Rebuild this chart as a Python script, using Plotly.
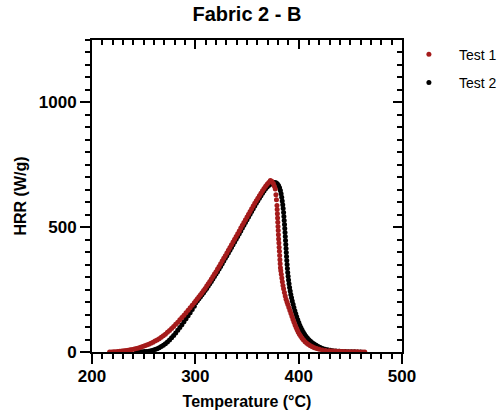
import plotly.graph_objects as go

# Heat release rate vs temperature, two repeat tests of Fabric 2 - B
test1_temp = [217, 219, 221, 223, 225, 227, 229, 231, 233, 235, 237, 239, 241, 243, 245, 247, 249, 251, 253, 255,
              257, 259, 261, 263, 265, 267, 269, 271, 273, 275, 277, 279, 281, 283, 285, 287, 289, 291, 293, 295,
              297, 299,
              300.5, 302, 303.5, 305, 306.5, 308, 309.5, 311, 312.5, 314, 315.5, 317, 318.5, 320, 321.5, 323,
              324.5, 326, 327.5, 329, 330.5, 332, 333.5, 335, 336.5, 338, 339.5, 341, 342.5, 344, 345.5, 347,
              348.5, 350, 351.5, 353, 354.5, 356, 357.5, 359, 360.5, 362, 363.5, 365, 366.5, 368, 369.5, 371, 372.6,
              374, 375.5, 376.5, 377.4, 378, 378.5, 379, 379.2, 379.4, 379.6, 379.8, 380, 380.2, 380.4, 380.6,
              380.85, 381.1, 381.35, 381.6, 381.85, 382.1, 382.35, 382.7, 383.2, 383.7, 384.2, 384.8, 385.4,
              386.2, 387, 387.8, 388.7, 389.5, 390.5, 391.5, 392.5, 393.5, 394.5, 395.5, 396.5, 397.5, 398.5,
              399.5, 400.7, 402, 403.3, 404.7, 406.2, 407.8, 409.5, 411.3, 413.2, 415.2, 417.5, 420, 422.8, 426,
              429.5, 432, 434.5, 437, 439.5, 442, 444.5, 447, 449.5, 452, 454.5, 457, 459.5, 462, 464]
test1_hrr = [0, 0.5, 1, 1.5, 2, 3, 4, 5, 6, 7.5, 9, 10.5, 12, 14, 16.5, 19, 22, 25, 28, 31,
             35, 39, 44, 48, 53, 59, 65, 71, 79, 86, 94, 102, 111, 119, 129, 138, 147, 157, 167, 177,
             187, 197,
             205, 213, 221, 229, 237, 246, 254, 264, 273, 282, 292, 302, 312, 322, 333, 343,
             354, 365, 376, 386, 397, 408, 419, 430, 441, 452, 463, 474, 485, 497, 508, 519,
             530, 541, 552, 563, 574, 585, 596, 606, 616, 626, 636, 646, 655, 664, 672, 679, 687,
             684, 675, 664, 653, 630, 610, 587, 571, 554, 537, 520, 503, 487, 470, 453,
             437, 420, 404, 387, 370, 354, 338, 326, 311, 296, 281, 266, 253,
             238, 224, 211, 200, 190, 178, 166, 154, 142, 130, 119, 108, 98,
             89, 80, 71, 63, 55, 48, 41, 35, 30, 25, 21, 17, 14, 11, 8.5, 6.5,
             5, 4.3, 3.7, 3.1, 2.6, 2.2, 1.8, 1.5, 1.2, 1, 0.8, 0.6, 0.4, 0.2, 0.1]

test2_temp = [243, 245, 247, 249, 251, 253, 255, 257, 259, 261, 263, 265, 267, 269, 271, 273, 275, 277, 279, 281,
              283, 285, 287, 289, 291, 293, 295, 297, 299,
              300.5, 302, 303.5, 305, 306.5, 308, 309.5, 311, 312.5, 314, 315.5, 317, 318.5, 320, 321.5, 323,
              324.5, 326, 327.5, 329, 330.5, 332, 333.5, 335, 336.5, 338, 339.5, 341, 342.5, 344, 345.5, 347,
              348.5, 350, 351.5, 353, 354.5, 356, 357.5, 359, 360.5, 362, 363.5, 365, 366.5, 368, 369.5, 371,
              373, 375, 376.8,
              378, 379.3, 380.5, 381.5, 382.3, 383, 383.6, 384.1, 384.6, 385, 385.4, 385.7, 386, 386.3, 386.55,
              386.8, 387.05, 387.3, 387.55, 387.8, 388, 388.25, 388.5, 388.8, 389.1, 389.4, 389.8, 390.2, 390.7,
              391.2, 391.8, 392.4, 393.1, 393.8, 394.6, 395.4, 396.3, 397.2, 398.1, 399.1, 400.1, 401.1, 402.2,
              403.3, 404.5, 405.7, 407, 408.4, 409.9, 411.5, 413.2, 415, 417, 419, 421, 423.2, 425.5, 428,
              430.5, 433, 436, 439, 442, 445, 448, 451, 454, 457, 460]
test2_hrr = [0, 0.3, 0.6, 1, 1.6, 2.4, 3.4, 5, 7, 10, 13, 17, 22, 27, 33, 40, 48, 57, 66, 76,
             87, 98, 109, 121, 133, 145, 157, 170, 183,
             197, 205, 213, 221, 229, 237, 246, 254, 264, 273, 282, 292, 302, 312, 322, 333,
             343, 354, 365, 376, 386, 397, 408, 419, 430, 441, 452, 463, 474, 485, 497, 508,
             519, 530, 541, 552, 563, 574, 585, 596, 606, 616, 626, 636, 645, 654, 661, 667,
             672, 676, 679,
             678, 674, 667, 658, 647, 634, 620, 605, 590, 575, 559, 543, 527, 511, 495,
             479, 463, 447, 431, 415, 399, 383, 367, 351, 335, 319, 303, 288, 273,
             258, 244, 230, 217, 204, 191, 178, 165, 153, 141, 129, 118, 107, 97,
             88, 79, 71, 63, 56, 49, 43, 37, 32, 27, 22, 18, 14.5, 11.5, 9,
             7, 5.5, 4.2, 3.2, 2.4, 1.8, 1.3, 0.9, 0.6, 0.4, 0.2]

x_ticks = [200, 300, 400, 500]
y_ticks = [0, 500, 1000]
x_range = [200, 500]
y_range = [0, 1250]

RED = "#A51B1B"
FONT = "Liberation Sans, Arial, sans-serif"

fig = go.Figure()
# Test 2 drawn first so Test 1 sits on top
fig.add_trace(go.Scatter(x=test2_temp, y=test2_hrr, mode="markers", name="Test 2",
                         marker=dict(color="black", size=5, line=dict(width=0)),
                         legendrank=2, legendgroup="t2"))
fig.add_trace(go.Scatter(x=test1_temp, y=test1_hrr, mode="markers", name="Test 1",
                         marker=dict(color=RED, size=5, line=dict(width=0)),
                         legendrank=1, legendgroup="t1"))
# empty trace so the mirrored top/right frame axes get drawn
fig.add_trace(go.Scatter(x=[None], y=[None], xaxis="x2", yaxis="y2", mode="markers",
                         showlegend=False, hoverinfo="skip"))

tickfont = dict(family=FONT, size=17, color="black", weight="bold")
axis_common = dict(showgrid=False, zeroline=False, showline=True, linecolor="black", linewidth=2)

fig.update_layout(
    width=504, height=417,
    margin=dict(l=92, r=102, t=40, b=65, autoexpand=False),
    plot_bgcolor="white", paper_bgcolor="white",
    font=dict(family=FONT, color="black"),
    title=dict(text="<b>Fabric 2 - B</b>", x=0.5, xref="paper", xanchor="center",
               y=1 - 14 / 417, yref="container", yanchor="middle",
               font=dict(family=FONT, size=20, color="black")),
    xaxis=dict(range=x_range, tickvals=x_ticks, ticks="outside", ticklen=10, tickwidth=2,
               tickcolor="black", tickfont=tickfont, ticklabelstandoff=-2,
               minor=dict(dtick=10, ticks="outside", ticklen=5, tickwidth=1.5, tickcolor="black"),
               title=dict(text="<b>Temperature (°C)</b>", standoff=10,
                          font=dict(family=FONT, size=16, color="black")),
               **axis_common),
    yaxis=dict(range=y_range, tickvals=y_ticks, ticks="outside", ticklen=10, tickwidth=2,
               tickcolor="black", tickfont=tickfont,
               minor=dict(dtick=50, ticks="outside", ticklen=5, tickwidth=1.5, tickcolor="black"),
               title=dict(text="<b>HRR (W/g)</b>", standoff=8,
                          font=dict(family=FONT, size=16, color="black")),
               **axis_common),
    xaxis2=dict(range=x_range, overlaying="x", side="top", anchor="y2", tickvals=x_ticks,
                ticks="inside", ticklen=9, tickwidth=2, tickcolor="black", showticklabels=False,
                minor=dict(dtick=10, ticks="inside", ticklen=5, tickwidth=1.5, tickcolor="black"),
                **axis_common),
    yaxis2=dict(range=y_range, overlaying="y", side="right", anchor="x2", tickvals=y_ticks,
                ticks="inside", ticklen=9, tickwidth=2, tickcolor="black", showticklabels=False,
                minor=dict(dtick=50, ticks="inside", ticklen=5, tickwidth=1.5, tickcolor="black"),
                **axis_common),
    legend=dict(x=0.99, xanchor="left", y=1.004, yanchor="top", itemwidth=50,
                tracegroupgap=7, font=dict(family=FONT, size=14, color="black"),
                bgcolor="rgba(0,0,0,0)"),
)

fig.write_html("out.html")
